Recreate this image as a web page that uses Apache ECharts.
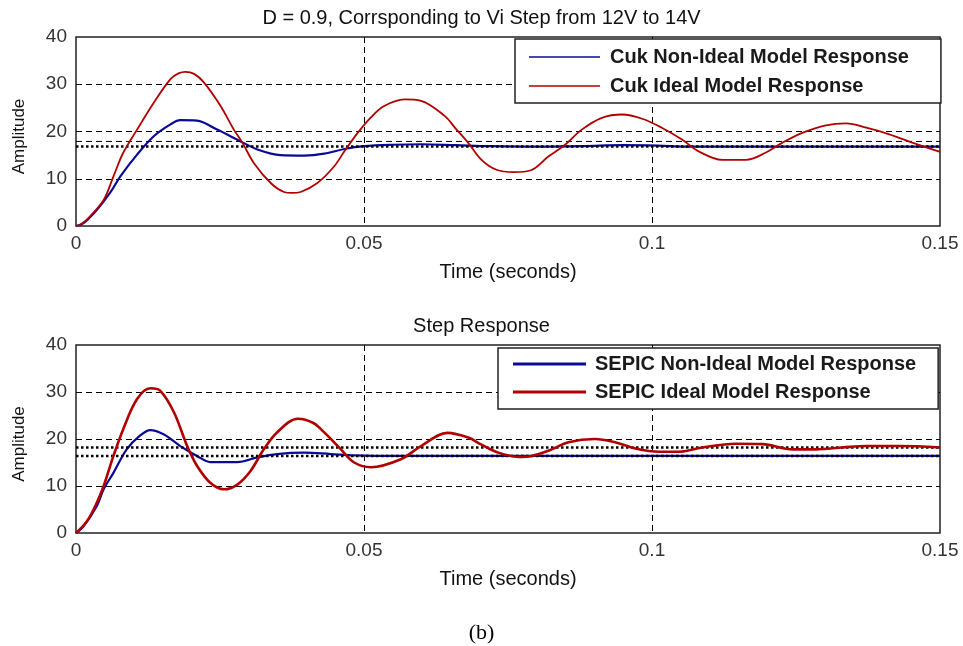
<!DOCTYPE html>
<html>
<head>
<meta charset="utf-8">
<script src="https://cdn.jsdelivr.net/npm/echarts@6/dist/echarts.min.js"></script>
<style>
html, body { margin: 0; padding: 0; background: #fff; }
#main { width: 963px; height: 646px; }
</style>
</head>
<body>
<div id="main"></div>
<script>
// values: [time (s), amplitude]
var cukNonIdeal = [[0, 0], [0.0013, 0.6], [0.0036, 3.4], [0.0059, 7.0], [0.0077, 10.5], [0.0106, 15.1], [0.0135, 19.0],
    [0.0164, 21.5], [0.0181, 22.4], [0.021, 22.3], [0.0245, 20.4], [0.0286, 17.9], [0.0315, 16.2], [0.0355, 15.0],
    [0.0396, 14.9], [0.0431, 15.3], [0.0466, 16.3], [0.05, 16.9], [0.055, 17.2], [0.06, 17.3], [0.066, 17.1],
    [0.072, 16.9], [0.08, 16.8], [0.088, 16.9], [0.095, 17.1], [0.101, 17.0], [0.106, 16.8], [0.15, 16.8]];
var cukIdeal = [[0, 0], [0.001, 0.5], [0.0024, 2.0], [0.0048, 5.5], [0.0065, 10.5], [0.0082, 15.5], [0.0106, 20.4],
    [0.0135, 26.1], [0.0164, 31.1], [0.0178, 32.3], [0.019, 32.6], [0.0205, 32.2], [0.0222, 30.4], [0.0251, 25.4],
    [0.0274, 20.4], [0.0289, 17.6], [0.0309, 13.3], [0.0338, 9.1], [0.0361, 7.2], [0.0375, 7.0], [0.039, 7.2],
    [0.0419, 9.1], [0.0448, 12.6], [0.0466, 15.8], [0.0489, 19.7], [0.0512, 23.0], [0.0535, 25.4], [0.057, 26.8],
    [0.0599, 26.5], [0.064, 23.3], [0.066, 20.5], [0.0681, 17.6], [0.0704, 14.0], [0.073, 11.9], [0.076, 11.4],
    [0.079, 11.8], [0.082, 14.7], [0.0849, 17.2], [0.0878, 20.4], [0.0913, 22.9], [0.0948, 23.6], [0.0983, 22.7],
    [0.1017, 20.8], [0.1052, 18.3], [0.1081, 15.8], [0.1122, 14.0], [0.1163, 14.0], [0.1197, 15.5], [0.1226, 17.6],
    [0.1261, 19.7], [0.1302, 21.3], [0.1337, 21.7], [0.1372, 20.8], [0.1412, 19.4], [0.1453, 17.6], [0.15, 15.7]];
var sepicNonIdeal = [[0, 0], [0.0013, 1.4], [0.0036, 5.7], [0.0048, 9.3], [0.0065, 12.8], [0.0088, 17.8], [0.0111, 20.7],
    [0.0129, 21.9], [0.0152, 21.0], [0.0181, 18.5], [0.021, 16.4], [0.0233, 15.1], [0.028, 15.1], [0.0315, 16.1],
    [0.0349, 16.8], [0.0396, 17.1], [0.0442, 16.8], [0.0483, 16.5], [0.052, 16.4], [0.15, 16.4]];
var sepicIdeal = [[0, 0], [0.0019, 2.5], [0.0036, 6.4], [0.0048, 10.0], [0.0065, 16.4], [0.0082, 22.1], [0.0106, 28.5],
    [0.0129, 30.8], [0.0146, 30.3], [0.017, 25.7], [0.0193, 18.5], [0.021, 14.3], [0.0233, 10.7], [0.0257, 9.3],
    [0.028, 10.3], [0.0303, 13.2], [0.0326, 17.8], [0.0349, 21.4], [0.0385, 24.3], [0.0412, 23.4], [0.0431, 21.4],
    [0.046, 17.8], [0.0483, 15.0], [0.0512, 14.0], [0.0564, 15.7], [0.0599, 18.5], [0.0645, 21.3], [0.0681, 20.3],
    [0.0704, 18.8], [0.0733, 17.1], [0.0768, 16.2], [0.0791, 16.4], [0.082, 17.5], [0.0855, 19.3], [0.0901, 20.0],
    [0.0936, 19.3], [0.0971, 18.0], [0.1012, 17.3], [0.1046, 17.3], [0.1087, 18.2], [0.1145, 19.0], [0.1192, 18.9],
    [0.1244, 17.8], [0.1285, 17.8], [0.1331, 18.2], [0.1372, 18.5], [0.143, 18.5], [0.15, 18.2]];
// steady state reference levels
var cukLevels = [16.8, 17.9];
var sepicLevels = [16.4, 18.2];
var xTicks = [0, 0.05, 0.1, 0.15];
var yTicks = [0, 10, 20, 30, 40];

var FONT = "'Liberation Sans', Arial, sans-serif";
var BLUE = '#0a0a96';
var RED = '#b00000';

var chart = echarts.init(document.getElementById('main'));

function xAxisFor(idx) {
    return {
        type: 'value', gridIndex: idx,
        min: xTicks[0], max: xTicks[xTicks.length - 1], interval: xTicks[1] - xTicks[0],
        name: 'Time (seconds)', nameLocation: 'middle', nameGap: 36,
        nameTextStyle: { fontFamily: FONT, fontSize: 20, color: '#111' },
        axisLine: { show: false }, axisTick: { show: false },
        axisLabel: {
            fontFamily: FONT, fontSize: 19, color: '#333', margin: 8,
            formatter: function (v) { return String(parseFloat(v.toFixed(3))); }
        },
        splitLine: { show: true, showMinLine: false, showMaxLine: false, lineStyle: { color: '#000', type: [6, 4], width: 1 } }
    };
}
function yAxisFor(idx) {
    return {
        type: 'value', gridIndex: idx,
        min: yTicks[0], max: yTicks[yTicks.length - 1], interval: yTicks[1] - yTicks[0],
        name: 'Amplitude', nameLocation: 'middle', nameGap: 48, nameRotate: 90,
        nameTextStyle: { fontFamily: FONT, fontSize: 17, color: '#111', padding: [0, 10, 0, 0] },
        axisLine: { show: false }, axisTick: { show: false },
        axisLabel: { fontFamily: FONT, fontSize: 19, color: '#333', margin: 9 },
        splitLine: { show: true, showMinLine: false, showMaxLine: false, lineStyle: { color: '#000', type: [6, 4], width: 1 } }
    };
}
function levelLine(idx, v, dotted) {
    return {
        type: 'line', xAxisIndex: idx, yAxisIndex: idx, silent: true,
        showSymbol: false, symbol: 'none',
        data: [[xTicks[0], v], [xTicks[xTicks.length - 1], v]],
        lineStyle: dotted ? { color: '#000', width: 2.5, type: [2.5, 2.5] } : { color: '#000', width: 1, type: [6, 4] }
    };
}
function curve(idx, name, data, color, width) {
    return {
        type: 'line', name: name, xAxisIndex: idx, yAxisIndex: idx,
        data: data, showSymbol: false, symbol: 'none', smooth: 0.35,
        itemStyle: { color: color },
        lineStyle: { color: color, width: width }
    };
}

chart.setOption({
    animation: false,
    backgroundColor: '#fff',
    title: [
        { text: 'D = 0.9, Corrsponding to Vi Step from 12V to 14V', left: 'center', top: 3,
          textStyle: { fontFamily: FONT, fontSize: 20, fontWeight: 'normal', color: '#111' } },
        { text: 'Step Response', left: 'center', top: 311,
          textStyle: { fontFamily: FONT, fontSize: 20, fontWeight: 'normal', color: '#111' } },
        { text: '(b)', left: 'center', top: 617,
          textStyle: { fontFamily: "'Liberation Serif', 'Times New Roman', serif", fontSize: 22, fontWeight: 'normal', color: '#000' } }
    ],
    grid: [
        { left: 76, top: 37, width: 864, height: 189, show: true, borderColor: '#222', borderWidth: 1.5, backgroundColor: '#fff' },
        { left: 76, top: 345, width: 864, height: 188, show: true, borderColor: '#222', borderWidth: 1.5, backgroundColor: '#fff' }
    ],
    legend: [
        { data: ['Cuk Non-Ideal Model Response', 'Cuk Ideal Model Response'], orient: 'vertical',
          left: 515, top: 39, padding: [8, 32, 7, 14], itemGap: 9, itemWidth: 71, itemHeight: 1.5, icon: 'rect',
          backgroundColor: '#fff', borderColor: '#222', borderWidth: 1.5, selectedMode: false,
          textStyle: { fontFamily: FONT, fontSize: 20, fontWeight: 'bold', color: '#1a1a1a', padding: [0, 0, 0, 5] } },
        { data: ['SEPIC Non-Ideal Model Response', 'SEPIC Ideal Model Response'], orient: 'vertical',
          left: 498, top: 348, padding: [6, 22, 7, 15], itemGap: 8, itemWidth: 73, itemHeight: 3, icon: 'rect',
          backgroundColor: '#fff', borderColor: '#222', borderWidth: 1.5, selectedMode: false,
          textStyle: { fontFamily: FONT, fontSize: 20, fontWeight: 'bold', color: '#1a1a1a', padding: [0, 0, 0, 4] } }
    ],
    xAxis: [xAxisFor(0), xAxisFor(1)],
    yAxis: [yAxisFor(0), yAxisFor(1)],
    series: [
        curve(0, 'Cuk Non-Ideal Model Response', cukNonIdeal, BLUE, 2.2),
        levelLine(0, cukLevels[0], true),
        levelLine(0, cukLevels[1], false),
        curve(0, 'Cuk Ideal Model Response', cukIdeal, RED, 1.8),
        curve(1, 'SEPIC Non-Ideal Model Response', sepicNonIdeal, BLUE, 2.2),
        levelLine(1, sepicLevels[0], true),
        levelLine(1, sepicLevels[1], true),
        curve(1, 'SEPIC Ideal Model Response', sepicIdeal, RED, 2.6)
    ]
});
</script>
</body>
</html>
